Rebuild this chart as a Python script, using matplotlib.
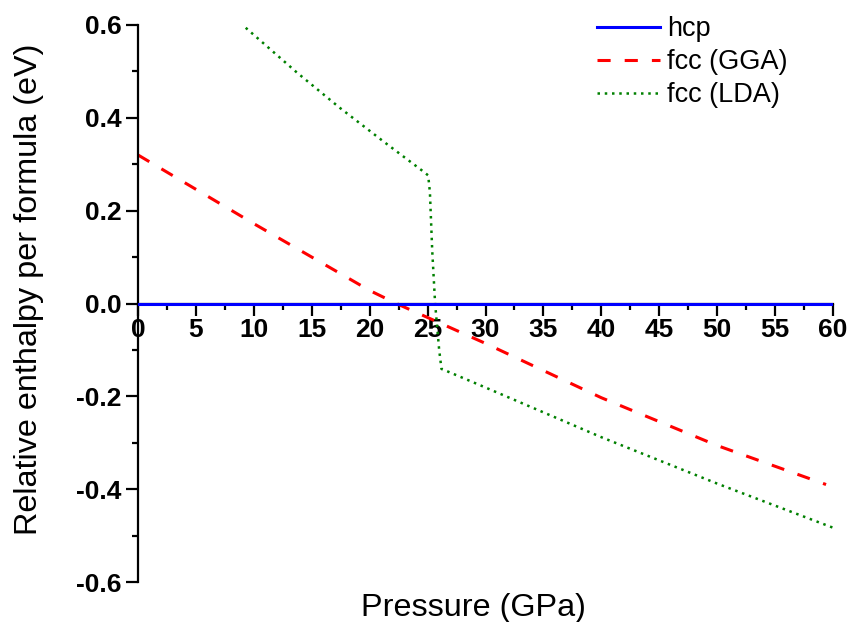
import matplotlib
matplotlib.use("Agg")
import matplotlib.pyplot as plt
from matplotlib.ticker import MultipleLocator, FormatStrFormatter

plt.rcParams['font.family'] = ['Liberation Sans', 'DejaVu Sans']

hcp_p = [0, 60]
hcp_h = [0.0, 0.0]

gga_p = [0, 10, 20, 22.3, 30, 40, 50, 59.4]
gga_h = [0.32, 0.172, 0.028, 0.0, -0.086, -0.203, -0.306, -0.39]

lda_p = [9.3, 13.7, 17.4, 21.3, 24.6, 25.05, 25.2, 25.4, 25.65, 26.0, 26.2, 26.6, 30, 40, 50, 60]
lda_h = [0.594, 0.498, 0.422, 0.347, 0.285, 0.276, 0.24, 0.114, 0.0, -0.10, -0.141, -0.145,
         -0.181, -0.288, -0.388, -0.483]

labels = ['hcp', 'fcc (GGA)', 'fcc (LDA)']

fig = plt.figure(figsize=(8.5, 6.22), dpi=100)
ax = fig.add_axes([138/850, 1-582/622, (833-138)/850, (582-25)/622])

ax.plot(hcp_p, hcp_h, color='#0000ff', lw=2.2, label=labels[0], zorder=3)
ax.plot(gga_p, gga_h, color='#ff0000', lw=2.2, linestyle=(0, (4.3, 4.6)), label=labels[1])
ax.plot(lda_p, lda_h, color='#008000', lw=1.8, linestyle=(0, (1, 1.9)), label=labels[2])

ax.set_xlim(0, 60)
ax.set_ylim(-0.6, 0.6)

ax.spines['top'].set_visible(False)
ax.spines['right'].set_visible(False)
ax.spines['bottom'].set_position(('data', 0))
ax.spines['left'].set_linewidth(1.6)
ax.spines['bottom'].set_linewidth(1.6)

ax.xaxis.set_major_locator(MultipleLocator(5))
ax.xaxis.set_minor_locator(MultipleLocator(2.5))
ax.yaxis.set_major_locator(MultipleLocator(0.2))
ax.yaxis.set_minor_locator(MultipleLocator(0.1))
ax.yaxis.set_major_formatter(FormatStrFormatter('%.1f'))

ax.tick_params(which='major', direction='out', length=8.5, width=1.6, labelsize=19, pad=3.5)
ax.tick_params(which='minor', direction='out', length=4.5, width=1.6)
ax.tick_params(axis='x', which='major', pad=2)
for lab in ax.get_xticklabels() + ax.get_yticklabels():
    lab.set_fontweight('bold')

ax.set_xlabel('Pressure (GPa)', fontsize=23.3)
ax.set_ylabel('Relative enthalpy per formula (eV)', fontsize=23.3)
ax.xaxis.set_label_coords(0.483, -0.02)
ax.yaxis.set_label_coords(-0.135, 0.526)

leg = ax.legend(loc='upper left', bbox_to_anchor=(597/850, 1-16/622),
                bbox_transform=fig.transFigure, frameon=False, borderpad=0, borderaxespad=0,
                fontsize=19.5, handlelength=2.33, handletextpad=0.26, labelspacing=0.26)

fig.savefig('out.png', dpi=100)
